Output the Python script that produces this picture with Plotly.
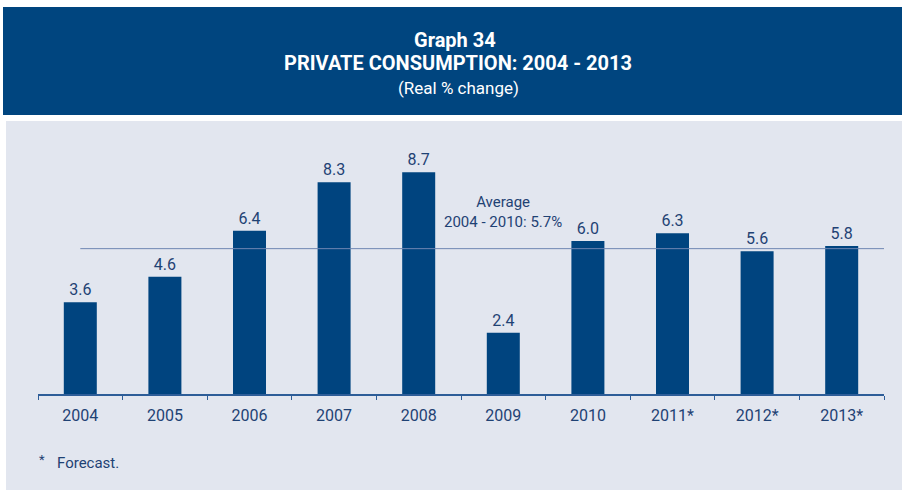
import plotly.graph_objects as go

# Data
years = ["2004", "2005", "2006", "2007", "2008", "2009", "2010", "2011*", "2012*", "2013*"]
growth = [3.6, 4.6, 6.4, 8.3, 8.7, 2.4, 6.0, 6.3, 5.6, 5.8]
average_2004_2010 = 5.7

NAVY = "#00447f"
TEXT = "#1f4274"
PANEL = "#e2e6ef"
FONT = "Roboto, Lato, sans-serif"

# plot area geometry (pixels) used to place the banner/panel shapes in paper coords
L, R, T, B = 38, 18, 130, 96
W, H = 902, 490
pw, ph = W - L - R, H - T - B


def px_x(x):
    return (x - L) / pw


def px_y(y):
    return (H - B - y) / ph


fig = go.Figure()
fig.add_trace(go.Bar(
    x=years, y=growth, width=0.39,
    marker=dict(color=NAVY, line=dict(width=0)),
    text=[f"{v:.1f}" for v in growth], textposition="outside",
    textfont=dict(family=FONT, size=16, color=TEXT),
    cliponaxis=False, hoverinfo="skip",
))

shapes = [
    # grey panel behind the chart
    dict(type="rect", xref="paper", yref="paper", layer="below",
         x0=px_x(6), x1=px_x(W + 2), y0=px_y(H + 2), y1=px_y(121),
         fillcolor=PANEL, line=dict(width=0)),
    # title banner
    dict(type="rect", xref="paper", yref="paper", layer="below",
         x0=px_x(3), x1=px_x(W + 2), y0=px_y(115), y1=px_y(7),
         fillcolor="#00457f", line=dict(width=0)),
    # average line
    dict(type="line", xref="x", yref="y", layer="above",
         x0=0, x1=9.5, y0=average_2004_2010, y1=average_2004_2010,
         line=dict(color="#6f86b3", width=1)),
]

annotations = [
    dict(xref="paper", yref="paper", x=px_x(455), y=px_y(40), yanchor="middle",
         showarrow=False, text="<b>Graph 34</b>",
         font=dict(family=FONT, size=20, color="white")),
    dict(xref="paper", yref="paper", x=px_x(458), y=px_y(63), yanchor="middle",
         showarrow=False, text="<b>PRIVATE CONSUMPTION: 2004 - 2013</b>",
         font=dict(family=FONT, size=20, color="white")),
    dict(xref="paper", yref="paper", x=px_x(458), y=px_y(88), yanchor="middle",
         showarrow=False, text="(Real % change)",
         font=dict(family=FONT, size=17, color="white")),
    dict(xref="x", yref="y", x=5, y=average_2004_2010 + 0.62, yanchor="bottom",
         showarrow=False, align="center",
         text="Average<br>2004 - 2010: 5.7%",
         font=dict(family=FONT, size=15, color=TEXT)),
    dict(xref="paper", yref="paper", x=px_x(37), y=px_y(459), xanchor="left",
         yanchor="middle", showarrow=False, text="*",
         font=dict(family=FONT, size=13, color=TEXT)),
    dict(xref="paper", yref="paper", x=px_x(55), y=px_y(463), xanchor="left",
         yanchor="middle", showarrow=False, text="Forecast.",
         font=dict(family=FONT, size=15, color=TEXT)),
]

fig.update_layout(
    width=W, height=H,
    margin=dict(l=L, r=R, t=T, b=B),
    paper_bgcolor="white", plot_bgcolor=PANEL,
    showlegend=False, bargap=0.61,
    shapes=shapes, annotations=annotations,
    xaxis=dict(
        type="category", range=[-0.5, 9.5], tickson="boundaries",
        showline=True, linecolor="#2d5d98", linewidth=1.5,
        ticks="outside", ticklen=4, tickcolor="#2d5d98", tickwidth=1.2,
        ticklabelstandoff=6,
        showgrid=False, zeroline=False,
        tickfont=dict(family=FONT, size=16, color=TEXT),
    ),
    yaxis=dict(range=[0, ph / 25.5], visible=False, showgrid=False, zeroline=False),
)

fig.write_html("out.html")
